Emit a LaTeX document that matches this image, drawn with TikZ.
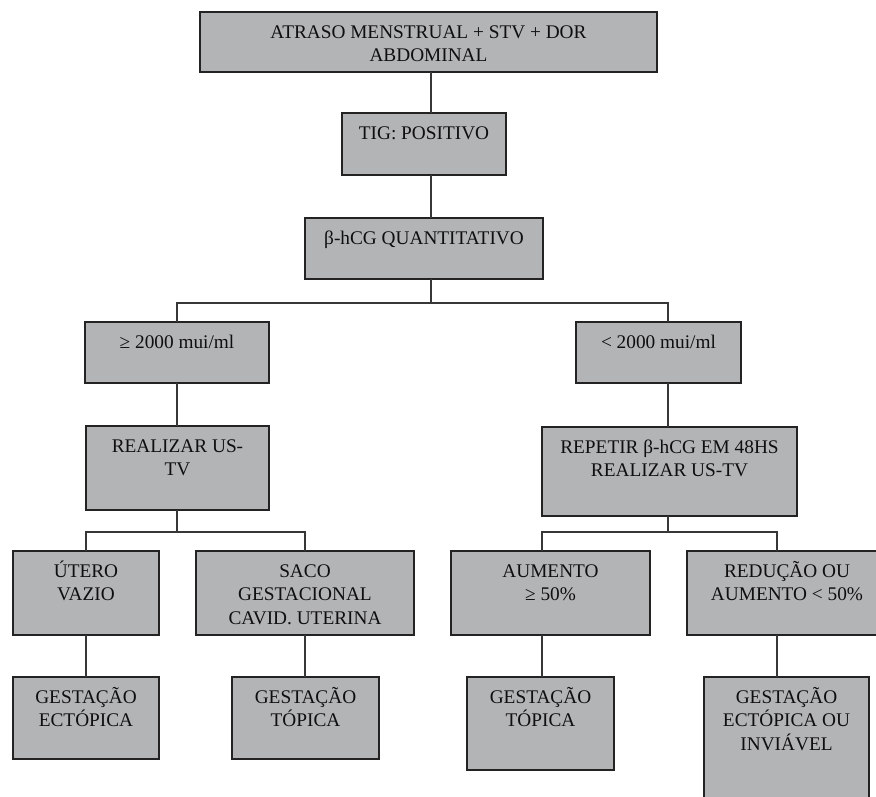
\documentclass[tikz,border=0pt]{standalone}
\usepackage{fontspec}
\setmainfont{Liberation Serif}
\definecolor{boxfill}{RGB}{179,180,182}
\definecolor{boxline}{RGB}{35,35,35}
\definecolor{connline}{RGB}{55,55,55}
\definecolor{txt}{RGB}{15,15,15}
\begin{document}
\begin{tikzpicture}[x=1pt,y=-1pt,
  box/.style={draw=boxline,fill=boxfill,line width=1.8pt,rectangle,inner sep=0pt,outer sep=0pt},
  lbl/.style={anchor=north,inner sep=0pt,yshift=-7.8pt,align=center,text=txt,
    font=\fontsize{19.3}{23.5}\selectfont},
  conn/.style={draw=connline,line width=1.3pt}]
\useasboundingbox (0,0) rectangle (876,796);
\clip (0,0) rectangle (876,796);
\newcommand{\fl}{\rule{0pt}{18pt}}
% boxes
\node[box,minimum width=457pt,minimum height=60pt,label={[lbl]north:{\fl ATRASO MENSTRUAL + STV + DOR\\ABDOMINAL}}] (top) at (428.5,42) {};
\node[box,minimum width=164pt,minimum height=62pt,label={[lbl]north:{\fl TIG: POSITIVO}}] (tig) at (424,144) {};
\node[box,minimum width=238pt,minimum height=61pt,label={[lbl]north:{\fl β-hCG QUANTITATIVO}}] (beta) at (424,248.5) {};
\node[box,minimum width=184pt,minimum height=61pt,label={[lbl]north:{\fl ≥ 2000 mui/ml}}] (ge) at (177,352.5) {};
\node[box,minimum width=165pt,minimum height=61pt,label={[lbl]north:{\fl < 2000 mui/ml}}] (lt) at (658.5,352.5) {};
\node[box,minimum width=183pt,minimum height=84pt,label={[lbl]north:{\fl REALIZAR US-\\TV}}] (real) at (177.5,468) {};
\node[box,minimum width=255pt,minimum height=89pt,label={[lbl]north:{\fl REPETIR β-hCG EM 48HS\\REALIZAR US-TV}}] (rep) at (669.5,471.5) {};
\node[box,minimum width=146pt,minimum height=84pt,label={[lbl]north:{\fl ÚTERO\\VAZIO}}] (utero) at (86,593) {};
\node[box,minimum width=218pt,minimum height=84pt,label={[lbl]north:{\fl SACO\\GESTACIONAL\\CAVID. UTERINA}}] (saco) at (305,593) {};
\node[box,minimum width=199pt,minimum height=84pt,label={[lbl]north:{\fl AUMENTO\\≥ 50\%}}] (aum) at (550.5,593) {};
\node[box,minimum width=200pt,minimum height=84pt,label={[lbl]north:{\fl REDUÇÃO OU\\AUMENTO < 50\%}}] (red) at (787,593) {};
\node[box,minimum width=146pt,minimum height=82pt,label={[lbl]north:{\fl GESTAÇÃO\\ECTÓPICA}}] (gect) at (86,718) {};
\node[box,minimum width=147pt,minimum height=82pt,label={[lbl]north:{\fl GESTAÇÃO\\TÓPICA}}] (gtop) at (305.5,718) {};
\node[box,minimum width=147pt,minimum height=93pt,label={[lbl]north:{\fl GESTAÇÃO\\TÓPICA}}] (gtopb) at (540.5,723.5) {};
\node[box,minimum width=165pt,minimum height=143pt,label={[lbl]north:{\fl GESTAÇÃO\\ECTÓPICA OU\\INVIÁVEL}}] (gein) at (786.5,748.5) {};
% line positions
\coordinate (xa) at (431,0);
\coordinate (xb) at (177,0);
\coordinate (xc) at (668,0);
\coordinate (xd) at (86,0);
\coordinate (xe) at (305,0);
\coordinate (xf) at (542,0);
\coordinate (xg) at (777,0);
\coordinate (bus1) at (431,303);
\coordinate (bus2) at (177,532);
\coordinate (bus3) at (668,532);
% connectors
\draw[conn] (top.south -| xa) -- (tig.north -| xa);
\draw[conn] (tig.south -| xa) -- (beta.north -| xa);
\draw[conn] (beta.south -| xa) -- (bus1);
\draw[conn] (ge.north -| xb) |- (bus1) -| (lt.north -| xc);
\draw[conn] (ge.south -| xb) -- (real.north -| xb);
\draw[conn] (lt.south -| xc) -- (rep.north -| xc);
\draw[conn] (real.south -| xb) -- (bus2);
\draw[conn] (utero.north -| xd) |- (bus2) -| (saco.north -| xe);
\draw[conn] (rep.south -| xc) -- (bus3);
\draw[conn] (aum.north -| xf) |- (bus3) -| (red.north -| xg);
\draw[conn] (utero.south -| xd) -- (gect.north -| xd);
\draw[conn] (saco.south -| xe) -- (gtop.north -| xe);
\draw[conn] (aum.south -| xf) -- (gtopb.north -| xf);
\draw[conn] (red.south -| xg) -- (gein.north -| xg);
\end{tikzpicture}
\end{document}
